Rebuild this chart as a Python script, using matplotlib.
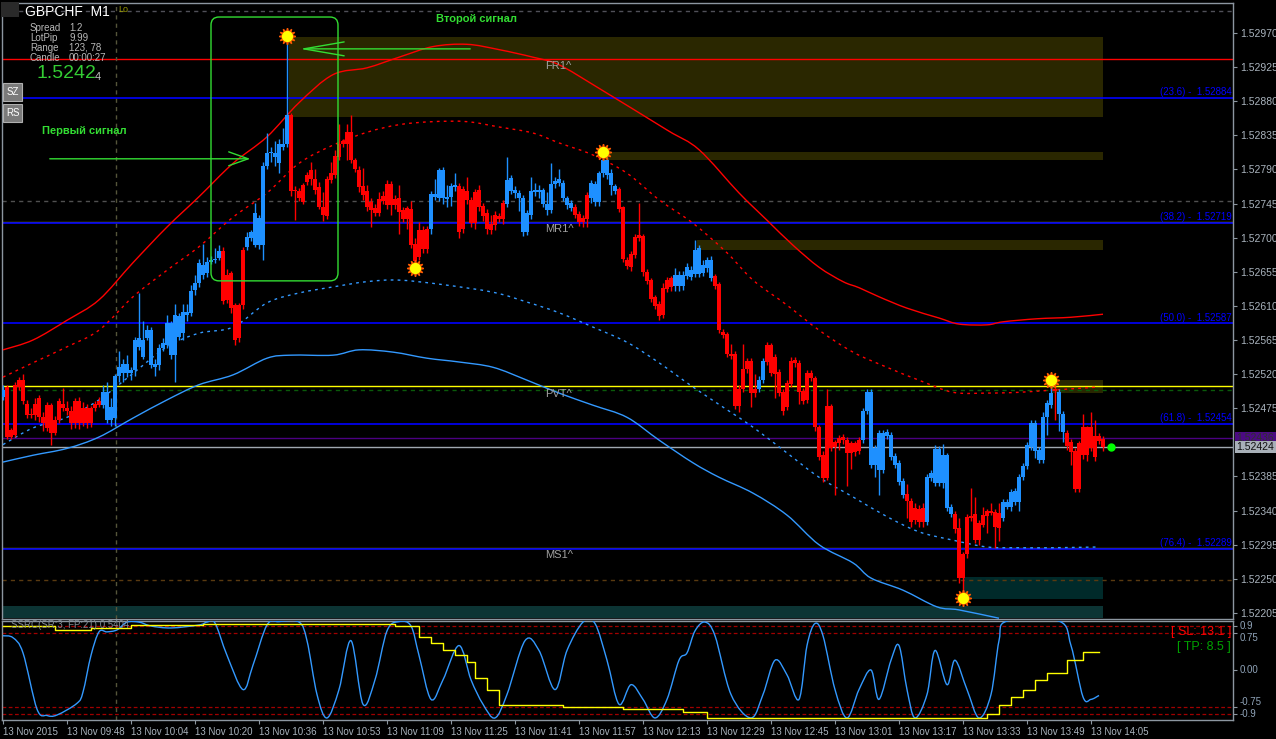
import matplotlib
matplotlib.use('Agg')
import matplotlib.pyplot as plt
import numpy as np
from matplotlib.patches import Rectangle, FancyBboxPatch, PathPatch
from matplotlib.path import Path
from matplotlib.transforms import blended_transform_factory

plt.rcParams['font.family'] = ['Liberation Sans', 'DejaVu Sans']
plt.rcParams['axes.unicode_minus'] = False

W, H = 1276, 739

# prices are stored in points above 1.52000 (1 pt = 0.00001)
BASE = 1.52
opens = [490, 503, 446, 505, 512, 512, 481, 468, 481, 488, 464, 479, 479, 460, 484, 481,
         475, 471, 484, 484, 475, 475, 475, 481, 484, 479, 460, 460, 462, 517, 521, 521,
         521, 525, 556, 543, 567, 532, 530, 532, 554, 558, 545, 545, 569, 574, 598, 600,
         631, 640, 651, 653, 668, 670, 673, 682, 651, 653, 611, 611, 684, 688, 699, 690,
         690, 690, 795, 811, 807, 799, 820, 824, 862, 763, 761, 769, 783, 789, 778, 767,
         741, 778, 785, 808, 824, 827, 840, 840, 802, 789, 768, 762, 747, 739, 751, 755,
         771, 771, 751, 752, 736, 739, 738, 692, 710, 710, 711, 711, 754, 752, 752, 751,
         754, 767, 768, 764, 762, 750, 760, 763, 742, 733, 718, 730, 729, 746, 745, 762,
         759, 752, 707, 707, 730, 760, 760, 745, 736, 736, 771, 772, 752, 743, 739, 740,
         731, 726, 756, 752, 747, 747, 785, 783, 769, 762, 764, 740, 670, 678, 701, 704,
         702, 655, 644, 622, 613, 634, 644, 647, 636, 636, 636, 649, 648, 652, 652, 653,
         660, 647, 649, 639, 575, 573, 547, 547, 500, 527, 537, 537, 500, 500, 512, 558,
         558, 543, 523, 496, 508, 537, 539, 535, 498, 521, 521, 515, 450, 413, 478, 478,
         430, 436, 437, 433, 429, 429, 433, 433, 471, 400, 400, 394, 394, 438, 411, 400,
         378, 361, 362, 353, 344, 342, 344, 325, 383, 377, 377, 377, 344, 336, 336, 317,
         283, 331, 333, 336, 324, 334, 339, 339, 338, 337, 330, 345, 345, 351, 351, 384,
         399, 424, 419, 407, 407, 463, 479, 500, 468, 443, 442, 430, 419, 429, 450, 450,
         450, 438, 438, 434]
closes = [499, 437, 437, 440, 503, 484, 466, 466, 466, 464, 455, 449, 442, 442, 460, 475,
          471, 455, 455, 455, 455, 455, 455, 475, 479, 497, 497, 477, 517, 530, 534, 534,
          525, 565, 567, 565, 578, 578, 534, 554, 561, 587, 587, 598, 596, 602, 602, 629,
          640, 666, 664, 668, 671, 672, 682, 616, 618, 607, 565, 567, 611, 701, 708, 732,
          726, 795, 811, 813, 811, 824, 824, 862, 761, 761, 752, 747, 774, 778, 763, 741,
          730, 728, 776, 783, 807, 824, 824, 802, 791, 767, 756, 740, 737, 733, 733, 748,
          743, 743, 743, 734, 724, 724, 690, 669, 674, 685, 685, 758, 758, 789, 789, 754,
          768, 770, 707, 711, 750, 719, 719, 740, 729, 711, 710, 717, 725, 725, 776, 779,
          763, 759, 752, 733, 762, 763, 763, 763, 745, 771, 775, 777, 772, 752, 746, 730,
          721, 721, 724, 772, 771, 785, 802, 802, 785, 768, 738, 672, 662, 661, 677, 700,
          655, 643, 619, 610, 597, 598, 632, 635, 651, 651, 651, 661, 657, 684, 686, 664,
          671, 671, 636, 578, 572, 547, 544, 478, 478, 500, 527, 495, 495, 512, 537, 536,
          521, 520, 495, 471, 477, 507, 535, 496, 485, 486, 515, 450, 411, 383, 383, 422,
          424, 429, 433, 416, 416, 417, 419, 471, 496, 496, 423, 442, 442, 444, 440, 412,
          403, 379, 353, 325, 328, 325, 325, 384, 389, 421, 421, 413, 413, 345, 316, 251,
          251, 283, 330, 301, 301, 321, 333, 337, 318, 317, 351, 351, 364, 366, 384, 399,
          426, 456, 456, 420, 463, 482, 495, 498, 496, 468, 425, 417, 368, 368, 413, 413,
          422, 411, 432, 424]
highs = [506, 506, 449, 510, 516, 520, 486, 475, 488, 492, 470, 483, 482, 465, 488, 502,
         484, 478, 488, 490, 483, 480, 478, 485, 490, 505, 510, 488, 520, 550, 540, 545,
         530, 569, 627, 590, 585, 582, 540, 560, 568, 598, 590, 612, 600, 612, 612, 638,
         651, 672, 692, 675, 676, 686, 690, 688, 658, 656, 614, 614, 688, 708, 710, 746,
         730, 800, 838, 820, 827, 830, 845, 966, 865, 768, 765, 772, 786, 800, 790, 773,
         760, 781, 800, 815, 850, 830, 850, 862, 805, 795, 792, 770, 752, 745, 760, 762,
         776, 775, 756, 770, 740, 742, 748, 700, 720, 715, 716, 762, 778, 792, 793, 770,
         772, 785, 772, 768, 780, 754, 764, 770, 746, 738, 730, 735, 733, 750, 806, 783,
         768, 763, 756, 736, 780, 772, 770, 766, 760, 798, 780, 790, 776, 755, 750, 744,
         735, 730, 760, 776, 775, 788, 813, 806, 790, 771, 767, 742, 674, 682, 705, 746,
         705, 658, 647, 625, 616, 640, 648, 650, 660, 656, 656, 666, 662, 697, 690, 670,
         675, 676, 652, 642, 580, 576, 560, 551, 505, 560, 541, 541, 520, 518, 541, 562,
         561, 547, 527, 500, 512, 542, 543, 539, 502, 525, 525, 518, 453, 418, 500, 481,
         433, 440, 441, 437, 432, 432, 437, 475, 500, 500, 427, 446, 446, 448, 444, 416,
         407, 383, 375, 356, 350, 348, 350, 388, 393, 426, 425, 428, 416, 349, 340, 330,
         285, 335, 370, 358, 328, 345, 342, 350, 342, 350, 355, 355, 368, 370, 388, 403,
         430, 460, 460, 424, 470, 486, 514, 505, 500, 472, 446, 434, 422, 432, 468, 452,
         470, 460, 442, 438]
lows = [486, 434, 434, 437, 499, 480, 462, 462, 460, 457, 445, 445, 427, 440, 455, 472,
        466, 448, 449, 448, 452, 449, 450, 472, 476, 475, 455, 452, 452, 510, 510, 516,
        512, 518, 552, 540, 565, 528, 517, 525, 550, 555, 540, 509, 565, 565, 590, 596,
        625, 635, 645, 648, 665, 666, 670, 612, 614, 600, 558, 562, 606, 684, 695, 688,
        685, 670, 790, 800, 795, 785, 815, 820, 755, 723, 748, 744, 770, 770, 758, 738,
        722, 724, 772, 779, 803, 820, 802, 798, 787, 760, 750, 735, 714, 728, 728, 744,
        738, 730, 738, 705, 720, 712, 686, 660, 670, 680, 680, 705, 750, 748, 745, 740,
        742, 762, 700, 706, 745, 714, 712, 735, 722, 705, 705, 710, 720, 718, 740, 758,
        752, 735, 702, 703, 725, 755, 752, 740, 730, 732, 765, 768, 748, 738, 735, 726,
        716, 714, 714, 746, 742, 742, 780, 778, 756, 758, 734, 668, 658, 656, 673, 696,
        650, 639, 615, 606, 592, 594, 628, 630, 630, 630, 631, 645, 644, 648, 648, 650,
        655, 643, 632, 574, 568, 543, 540, 474, 470, 496, 522, 476, 490, 496, 508, 532,
        517, 488, 491, 466, 473, 503, 530, 480, 480, 482, 511, 445, 407, 378, 380, 418,
        360, 420, 428, 372, 395, 412, 415, 429, 467, 396, 384, 360, 390, 434, 407, 396,
        374, 357, 330, 318, 322, 318, 318, 321, 379, 373, 372, 370, 340, 332, 310, 245,
        222, 278, 326, 297, 295, 318, 310, 334, 290, 300, 326, 342, 340, 347, 340, 380,
        395, 420, 410, 403, 403, 440, 475, 460, 445, 430, 420, 400, 364, 364, 408, 405,
        418, 405, 428, 418]

# band curves: (bar, points)
upper_bars = [0, 7.5, 16, 24, 32.5, 41, 49, 57.5, 66, 74, 82.5, 91, 99, 107.5, 116, 124, 132.5,
              139, 149, 166, 174, 184, 191, 197.5, 204, 210, 214, 219, 226, 234, 239, 246, 250,
              258.5, 267, 275]
upper_pts = [552, 565, 591, 618, 667, 714, 754, 798, 833, 878, 915, 924, 938, 952, 955, 948, 938,
             928, 897, 842, 816, 759, 723, 690, 661, 642, 634, 622, 607, 594, 586, 585, 589,
             593, 595, 599]
mid_up_bars = [0, 7.5, 16, 24, 32.5, 41, 49, 57.5, 66, 74, 82.5, 91, 99, 107.5, 116, 124, 132.5,
               139, 147.5, 156, 164, 172.5, 181, 187.5, 196, 204, 212.5, 221, 229, 237.5, 246,
               254, 262.5, 274]
mid_up_pts = [516, 535, 556, 578, 622, 657, 688, 727, 759, 798, 822, 839, 849, 853, 853, 846, 838,
              825, 809, 785, 750, 719, 680, 644, 611, 578, 549, 529, 512, 496, 495, 496, 499, 503]
mid_dn_bars = [0, 7.5, 16, 24, 32.5, 41, 49, 57.5, 66, 74, 82.5, 91, 99, 110, 122.5, 131, 139,
               147.5, 156, 164, 172.5, 181, 187.5, 196, 204, 212.5, 221, 229, 237.5, 246, 254,
               262.5, 274]
mid_dn_pts = [427, 449, 463, 486, 521, 556, 574, 582, 614, 627, 635, 642, 644, 638, 628, 615, 601,
              582, 562, 535, 503, 473, 450, 416, 384, 358, 332, 312, 301, 292, 291, 291, 292]
lower_bars = [0, 7.5, 16, 24, 32.5, 41, 49, 57.5, 66, 72, 82.5, 89, 97.5, 106, 114, 122.5, 131,
              139, 147.5, 156, 164, 172.5, 179, 187.5, 196, 204, 212.5, 217, 225, 233.5, 239, 249]
lower_pts = [404, 413, 422, 437, 462, 486, 506, 519, 541, 545, 545, 552, 549, 541, 536, 529, 512,
             495, 479, 463, 433, 403, 384, 363, 334, 295, 271, 251, 235, 213, 209, 198]

# pivot / fibo levels
level_names = ['FR1^', 'MR1^', 'PVT^', 'MS1^']
level_prices = [1.52936, 1.52721, 1.52504, 1.52291]
level_colors = ['#ff0000', '#808000', '#ffff00', '#808000']
fib_names = ['23.6', '38.2', '50.0', '61.8', '76.4']
fib_prices = [1.52884, 1.52719, 1.52587, 1.52454, 1.52289]
dash_prices = [1.52999, 1.52748, 1.52499, 1.52248]
dash_colors = ['#505058', '#505050', '#0a5a0a', '#5a3a10']

# zones: start bar, end bar, low, high
zone_start = [71.5, 150.5, 173.5, 262, 240, -0.25]
zone_end = [275, 275, 275, 275, 275, 275]
zone_low = [1.52859, 1.52802, 1.52684, 1.52495, 1.52223, 1.52198]
zone_high = [1.52965, 1.52813, 1.52697, 1.52512, 1.52252, 1.52214]
zone_colors = ['#2a2700', '#2a2700', '#2a2700', '#2a2700', '#002a2a', '#0c3434']

star_bars = [71, 103, 150, 262, 240]
star_prices = [1.52966, 1.52660, 1.52813, 1.52512, 1.52225]

bid, ask_line = 1.52424, 1.52436

# indicator
ssrc_bars = [0, 2.5, 5, 8.5, 11, 13.5, 18.5, 20, 22, 24, 26, 28.5, 31, 34, 37, 42, 49, 51, 53, 56,
             60, 62.5, 66, 69, 74, 76, 78.5, 81, 84, 87, 90, 93, 96, 99, 102, 104, 107, 110, 114,
             117, 120, 123, 126, 130.5, 134, 138, 141, 145, 148, 151, 154, 157, 160, 163, 166,
             169, 171, 173, 175.5, 178, 182, 187, 190, 193, 196, 199, 201, 203, 205, 208, 211,
             214, 217, 219, 222, 224, 226, 228, 231, 233, 236, 238, 241, 244, 247, 249, 251, 264,
             267, 270, 272, 274]
ssrc_vals = [0.70, 0.66, 0.35, -0.80, -0.93, -0.92, -0.68, -0.45, 0.30, 0.78, 0.78, 0.82, 0.98,
             0.98, 0.90, 0.86, 0.92, 0.98, 0.96, 0.30, -0.40, 0.10, 0.92, 0.99, 0.98, 0.60, -0.50,
             -0.98, -0.40, 0.60, -0.70, -0.20, 0.80, 0.99, 0.90, 0.30, -0.60, -0.20, 0.50, -0.20,
             -0.70, -0.98, -0.50, 0.60, 0.40, -0.40, 0.40, 0.98, 0.95, 0.20, -0.70, -0.30, -0.60,
             -0.98, -0.60, 0.20, 0.35, 0.80, 0.98, 0.70, -0.50, -0.98, -0.50, 0.20, -0.10, -0.60,
             0.50, 0.95, 0.70, -0.40, -0.98, -0.40, 0.00, -0.60, 0.20, 0.50, -0.40, -0.98, -0.50,
             0.40, -0.30, 0.20, -0.40, -0.98, -0.50, 0.60, 1.00, 1.00, 0.50, -0.55, -0.60, -0.52]
sig_bars = [0, 13, 22, 32, 50, 72, 98, 104, 107, 110, 113, 116, 118, 121, 124, 140, 155, 170, 176,
            246, 249, 252, 255, 258, 261, 266, 270, 274]
sig_vals = [0.90, 0.82, 0.86, 0.92, 0.95, 0.94, 0.90, 0.67, 0.55, 0.41, 0.30, 0.16, -0.16, -0.41,
            -0.72, -0.76, -0.80, -0.85, -0.98, -0.90, -0.72, -0.55, -0.40, -0.20, -0.06, 0.20,
            0.37, 0.37]

time_labels = ['13 Nov 2015', '13 Nov 09:48', '13 Nov 10:04', '13 Nov 10:20', '13 Nov 10:36',
               '13 Nov 10:53', '13 Nov 11:09', '13 Nov 11:25', '13 Nov 11:41', '13 Nov 11:57',
               '13 Nov 12:13', '13 Nov 12:29', '13 Nov 12:45', '13 Nov 13:01', '13 Nov 13:17',
               '13 Nov 13:33', '13 Nov 13:49', '13 Nov 14:05']


def pt(v):
    return BASE + np.asarray(v, dtype=float) * 1e-5


def px(x, y):
    return x / W, 1 - y / H


def smooth_path(xs, ys):
    # catmull-rom drawn as cubic beziers: passes through every sampled point
    xs, ys = np.asarray(xs, float), np.asarray(ys, float)
    pts = np.column_stack([xs, ys])
    ext = np.vstack([pts[0], pts, pts[-1]])
    verts = [tuple(pts[0])]
    codes = [Path.MOVETO]
    for k in range(1, len(ext) - 2):
        p0, p1, p2, p3 = ext[k - 1], ext[k], ext[k + 1], ext[k + 2]
        c1 = p1 + (p2 - p0) / 6
        c2 = p2 - (p3 - p1) / 6
        verts += [tuple(c1), tuple(c2), tuple(p2)]
        codes += [Path.CURVE4] * 3
    return Path(verts, codes)


fig = plt.figure(figsize=(W / 100, H / 100), dpi=100, facecolor='black')
ax = fig.add_axes([2 / W, 1 - 619 / H, 1231 / W, 616 / H], facecolor='black')
ax2 = fig.add_axes([2 / W, 1 - 720 / H, 1231 / W, 99 / H], facecolor='black', sharex=ax)

lime = '#33dd33'
grey_txt = '#aab4be'

# zones
for x0, x1, lo, hi, col in zip(zone_start, zone_end, zone_low, zone_high, zone_colors):
    ax.add_patch(Rectangle((x0, lo), x1 - x0, hi - lo, facecolor=col, edgecolor='none', zorder=1))

# horizontal levels
for p, col in zip(dash_prices, dash_colors):
    ax.axhline(p, color=col, lw=1, ls=(0, (3, 3)), zorder=2)
for name, p, col in zip(level_names, level_prices, level_colors):
    ax.axhline(p, color=col, lw=1, zorder=2)
    ax.text(135.5, p - 0.00003, name, color='#a0a0a0', fontsize=8, va='top', ha='left', zorder=6)
for name, p in zip(fib_names, fib_prices):
    ax.axhline(p, color='#0000ff', lw=1.2, zorder=2)
    ax.text(307.2, p + 0.00001, '(%s) -  %.5f' % (name, p), color='#0000ff', fontsize=7,
            ha='right', va='bottom', zorder=6)
ax.axhline(ask_line, color='#4b0082', lw=1, zorder=2)
ax.axhline(bid, color='#a0a8b0', lw=1, zorder=2)
ax.axvline(28.25, color='#55553a', lw=1, ls=(0, (3, 3)), zorder=2)
ax2.axvline(28.25, color='#55553a', lw=1, ls=(0, (3, 3)), zorder=2)

# bands
band_styles = [(upper_bars, upper_pts, '#ff0000', '-'),
               (mid_up_bars, mid_up_pts, '#ff0000', (0, (2, 3))),
               (mid_dn_bars, mid_dn_pts, '#3399ff', (0, (2, 3))),
               (lower_bars, lower_pts, '#3399ff', '-')]
for bx, by, col, ls in band_styles:
    ax.add_patch(PathPatch(smooth_path(bx, pt(by)), fc='none', ec=col, lw=1, ls=ls, zorder=3))

# candles
o, c, h, l = pt(opens), pt(closes), pt(highs), pt(lows)
xb = np.arange(len(o))
cols = np.where(c >= o, '#1e90ff', '#ff0000')
ax.vlines(xb, l, h, colors=cols, lw=1, zorder=4)
body = np.maximum(np.abs(c - o), 0.000008)
ax.bar(xb, body, bottom=np.minimum(o, c), width=0.8, color=cols, linewidth=0, zorder=4)

# signal stars
ax.plot(star_bars, star_prices, ls='none', marker=(12, 1, 0), ms=12, mfc='#ff5a00', mec='#ff5a00', zorder=7)
ax.plot(star_bars, star_prices, ls='none', marker='o', ms=7, mfc='#ffff00', mec='#ffff00', zorder=8)
ax.plot([277], [bid], ls='none', marker='o', ms=5, color='#00ff00', zorder=8)

# signal box and arrows
ax.add_patch(FancyBboxPatch((52, 1.52643), 31.75, 0.00348,
                            boxstyle='round,pad=0,rounding_size=2', mutation_aspect=5.3e-5,
                            fc='none', ec=lime, lw=1, zorder=6))
ax.annotate('', xy=(62.5, 1.52804), xytext=(11, 1.52804),
            arrowprops=dict(arrowstyle='->,head_length=1.4,head_width=0.5', color=lime, lw=1), zorder=6)
ax.annotate('', xy=(73.5, 1.52949), xytext=(117.5, 1.52949),
            arrowprops=dict(arrowstyle='->,head_length=2.9,head_width=0.5', color=lime, lw=1), zorder=6)
ax.text(9.75, 1.52841, 'Первый сигнал', color=lime, fontsize=8, fontweight='bold', va='center', zorder=6)
ax.text(108.25, 1.52988, 'Второй сигнал', color=lime, fontsize=8, fontweight='bold', va='center', zorder=6)

# price axis
ax.set_xlim(-0.25, 307.5)
ax.set_ylim(1.52197, 1.530095)
ticks = [BASE + k * 1e-5 for k in range(205, 971, 45) if k != 430]
ax.yaxis.tick_right()
ax.set_yticks(ticks)
ax.set_yticklabels(['%.5f' % t for t in ticks])
ax.tick_params(axis='y', colors='#8c96a0', labelcolor=grey_txt, labelsize=7.5, length=3, pad=2)
ax.tick_params(axis='x', bottom=False, labelbottom=False)
tr = blended_transform_factory(ax.transAxes, ax.transData)
ax.text(1.003, ask_line, '1.52436', transform=tr, fontsize=7.5, color='#303030', va='center',
        bbox=dict(boxstyle='square,pad=0.12', fc='#4b0a82', ec='none'), zorder=9)
ax.text(1.003, bid, '1.52424', transform=tr, fontsize=7.5, color='#101010', va='center',
        bbox=dict(boxstyle='square,pad=0.12', fc='#a8b0b8', ec='none'), zorder=9)

# indicator panel
for v in [0.9, 0.75, -0.75, -0.9]:
    ax2.axhline(v, color='#a00000', lw=0.9, ls=(0, (3, 2)), zorder=2)
ax2.add_patch(PathPatch(smooth_path(ssrc_bars, ssrc_vals), fc='none', ec='#3399ff', lw=1, zorder=3))
ax2.plot(sig_bars, sig_vals, color='#ffff00', lw=1, drawstyle='steps-post', zorder=4)
ax2.set_ylim(-1.022, 1.002)
ax2.yaxis.tick_right()
ind_ticks = [0.9, 0.75, 0.0, -0.75, -0.9]
ax2.set_yticks(ind_ticks)
ax2.set_yticklabels(['0.9', '0.75', '0.00', '-0.75', '-0.9'])
ax2.tick_params(axis='y', colors='#8c96a0', labelcolor='#8fa3b8', labelsize=7, length=3, pad=2)
ind_va = ['center', 'top', 'center', 'bottom', 'center']
for lab, va in zip(ax2.get_yticklabels(), ind_va):
    lab.set_va(va)
ax2.set_xticks(np.arange(len(time_labels)) * 16)
ax2.set_xticklabels(time_labels, ha='left')
ax2.tick_params(axis='x', colors='#8c96a0', labelcolor=grey_txt, labelsize=7, length=3, pad=2)
ax2.text(2, 0.92, 'SSRC(SR:3, FP:21) 0.5404', color='#808890', fontsize=7, va='center', zorder=5)
ax2.text(307, 0.78, '[ SL: 13.1 ]', color='#ff0000', fontsize=9, ha='right', va='center', zorder=5)
ax2.text(307, 0.47, '[ TP: 8.5 ]', color='#00a000', fontsize=9, ha='right', va='center', zorder=5)

for a in (ax, ax2):
    for s in a.spines.values():
        s.set_color('#8c96a0')
        s.set_linewidth(1)

# info block, top left
fig.patches.append(Rectangle(px(1, 17), 18 / W, 15 / H, transform=fig.transFigure,
                             fc='#2a2a2a', ec='none', zorder=5))
fig.text(*px(5, 10), '▼', color='white', fontsize=5.5, va='center', family=['DejaVu Sans'])
fig.text(*px(25, 12), 'GBPCHF  M1', color='white', fontsize=10, va='center')
fig.text(*px(118, 10), 'Lo', color='#9a9a00', fontsize=6.5, va='center')
info_keys = ['Spread', 'LotPip', 'Range', 'Candle']
info_vals = ['1.2', '9.99', '123, 78', '00:00:27']
for i, (k, v) in enumerate(zip(info_keys, info_vals)):
    fig.text(*px(30, 28 + 10 * i), k, color='#b8b8b8', fontsize=7, va='center')
    fig.text(*px(69, 28 + 10 * i), v, color='#b8b8b8', fontsize=7, va='center')
fig.text(*px(36, 74), '1.5242', color='#33cc33', fontsize=14, va='center')
fig.text(*px(95, 77), '4', color='#c0c0c0', fontsize=8, va='center')
for i, lab in enumerate(['SZ', 'RS']):
    y0 = 83 + 21 * i
    fig.patches.append(Rectangle(px(3, y0 + 18), 19 / W, 18 / H, transform=fig.transFigure,
                                 fc='#7a7a7a', ec='#b0b0b0', lw=0.8, zorder=5))
    fig.text(*px(12.5, y0 + 9), lab, color='white', fontsize=7, ha='center', va='center', zorder=6)

fig.savefig('out.png', dpi=100, facecolor='black')
